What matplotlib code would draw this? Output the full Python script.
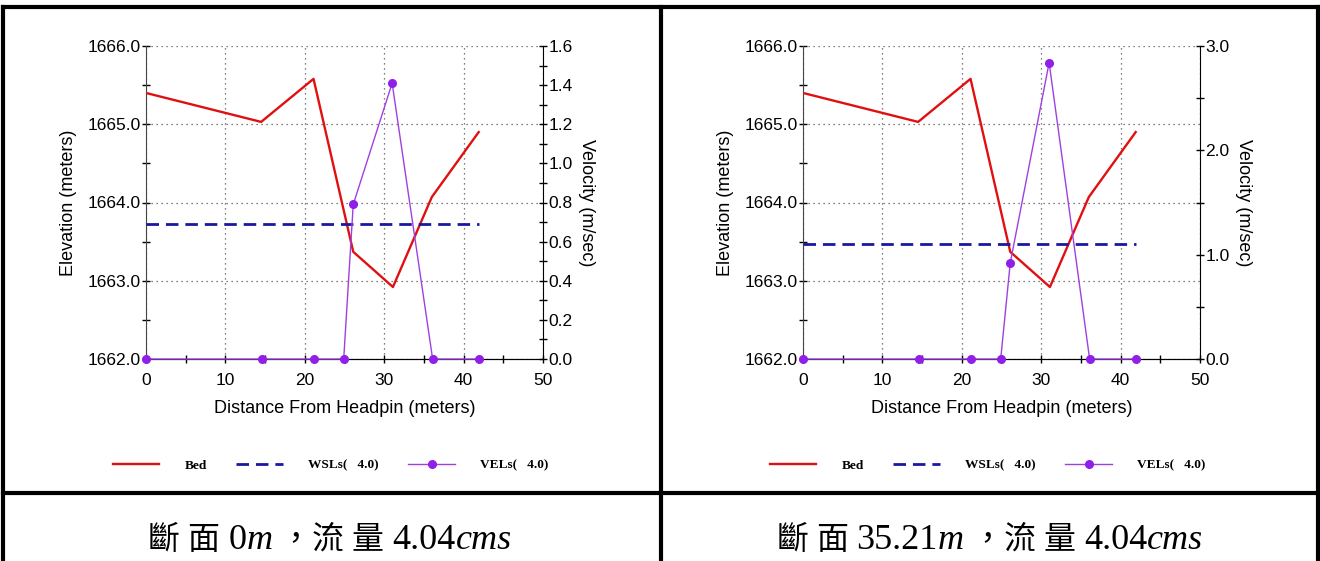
import matplotlib
matplotlib.use("Agg")
import matplotlib.pyplot as plt
from matplotlib.lines import Line2D
from matplotlib.ticker import MultipleLocator, FormatStrFormatter

dist = [0, 14.5, 21.1, 26.1, 31.1, 36.0, 41.9]
bed = [1665.40, 1665.03, 1665.58, 1663.37, 1662.92, 1664.07, 1664.90]
wsl_x = [0, 41.9]
wsl = [1663.72, 1663.47]
vel_x = [0, 14.6, 21.1, 24.9, 26.1, 31.0, 36.1, 41.9]
vel_0 = [0, 0, 0, 0, 0.79, 1.41, 0, 0]
vel_35 = [0, 0, 0, 0, 0.92, 2.84, 0, 0]
vel_max = [1.6, 3.0]
vel_step = [0.2, 1.0]
captions = [["斷 面 ", "0", "m", " ，流 量 ", "4.04", "cms"],
            ["斷 面 ", "35.21", "m", " ，流 量 ", "4.04", "cms"]]

W, H = 1320, 561
fig = plt.figure(figsize=(W/100, H/100), dpi=100)
sans = "Liberation Sans"
lab = dict(family=sans, fontsize=13, weight="normal")

def panel(x0, wsl_y, vel, vmax, vstep):
    ax = fig.add_axes([x0/W, 1-359/H, 397/W, 313/H])
    ax.plot(dist, bed, color="#e01010", lw=1.7, label="Bed", zorder=3)
    ax.plot(wsl_x, [wsl_y, wsl_y], color="#1818a0", lw=2, ls=(0, (4.5, 2.5)),
            label="WSLs(   4.0)", zorder=3)
    ax.set_xlim(0, 50)
    ax.set_ylim(1662, 1666)
    ax.xaxis.set_major_locator(MultipleLocator(10))
    ax.xaxis.set_minor_locator(MultipleLocator(5))
    ax.yaxis.set_major_locator(MultipleLocator(1))
    ax.yaxis.set_minor_locator(MultipleLocator(0.5))
    ax.yaxis.set_major_formatter(FormatStrFormatter("%.1f"))
    ax.grid(True, which="major", ls=(0, (1, 3)), color="#555555", lw=0.9)
    ax.spines["top"].set_visible(False)
    ax.spines["right"].set_visible(False)
    ax.spines["left"].set_color("#444444")
    ax.tick_params(which="both", direction="inout", length=6, width=1, labelsize=12.5, pad=1)
    ax.tick_params(axis="x", pad=7)
    for t in ax.get_xticklabels() + ax.get_yticklabels():
        t.set_family(sans)
    ax.set_xlabel("Distance From Headpin (meters)", labelpad=9, **lab)
    ax.set_ylabel("Elevation (meters)", labelpad=7, **lab)

    ax2 = ax.twinx()
    ax2.plot(vel_x, vel, color="#a040e0", lw=1, marker="o", ms=5.5,
             mfc="#9020e8", mec="#9020e8", label="VELs(   4.0)", zorder=4, clip_on=False)
    ax2.set_ylim(0, vmax)
    ax2.yaxis.set_major_locator(MultipleLocator(vstep))
    ax2.yaxis.set_minor_locator(MultipleLocator(vstep/2))
    ax2.yaxis.set_major_formatter(FormatStrFormatter("%.1f"))
    ax2.spines["top"].set_visible(False)
    ax2.spines["left"].set_visible(False)
    ax2.tick_params(which="both", direction="inout", length=6, width=1, labelsize=12.5, pad=1)
    for t in ax2.get_yticklabels():
        t.set_family(sans)
    ax2.set_ylabel("Velocity (m/sec)", rotation=270, labelpad=16, **lab)

    h1, l1 = ax.get_legend_handles_labels()
    h2, l2 = ax2.get_legend_handles_labels()
    ax.legend(h1 + h2, l1 + l2, loc="center", bbox_to_anchor=(0.465, -0.34), ncol=3,
              frameon=False, handlelength=3.5, handletextpad=1.9, columnspacing=2.2,
              prop={"family": "Liberation Serif", "weight": "bold", "size": 9.6})
    return ax

panel(146, wsl[0], vel_0, vel_max[0], vel_step[0])
panel(803, wsl[1], vel_35, vel_max[1], vel_step[1])

# table borders
lw = 3
for xs, ys in [([3, 1318], [7, 7]), ([3, 1318], [493, 493]), ([3, 3], [7, 561]),
               ([1318, 1318], [7, 561]), ([661, 661], [7, 561])]:
    fig.add_artist(Line2D([x/W for x in xs], [1-y/H for y in ys], color="black", lw=lw))

# captions, built from pieces so the italic units and CJK text mix
fig.canvas.draw()
r = fig.canvas.get_renderer()
fam = ["Liberation Serif", "Noto Sans CJK TC"]
styles = [dict(size=23), dict(size=26), dict(size=26, style="italic"),
          dict(size=23), dict(size=26), dict(size=26, style="italic")]
for cx, parts in zip([330, 990], captions):
    texts = []
    for p, st in zip(parts, styles):
        texts.append(fig.text(0, 1-549/H, p, va="baseline", ha="left", family=fam, **st))
    widths = [t.get_window_extent(r).width for t in texts]
    x = cx - sum(widths)/2
    for t, w in zip(texts, widths):
        t.set_x(x/W)
        x += w

fig.savefig("out.png", dpi=100)
